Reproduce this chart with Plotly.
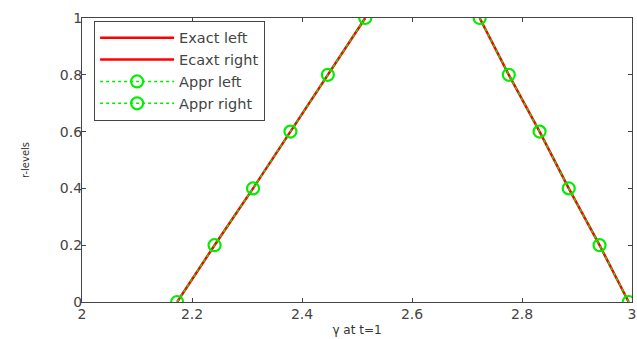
import plotly.graph_objects as go

r_levels = [0.0, 0.2, 0.4, 0.6, 0.8, 1.0]
left_vals = [2.173, 2.241, 2.311, 2.379, 2.447, 2.515]
right_vals = [2.994, 2.941, 2.885, 2.832, 2.776, 2.723]
x_ticks = [2, 2.2, 2.4, 2.6, 2.8, 3]
y_ticks = [0, 0.2, 0.4, 0.6, 0.8, 1]

RED = "#ff0000"
GREEN = "#00ee00"
FONT = "DejaVu Sans, Liberation Sans, Arial"

fig = go.Figure()
fig.add_trace(go.Scatter(x=left_vals, y=r_levels, mode="lines", name="Exact left",
                         line=dict(color=RED, width=2.5)))
fig.add_trace(go.Scatter(x=right_vals, y=r_levels, mode="lines", name="Ecaxt right",
                         line=dict(color=RED, width=2.5)))
fig.add_trace(go.Scatter(x=left_vals, y=r_levels, mode="lines+markers", name="Appr left",
                         line=dict(color=GREEN, width=1.5, dash="dot"),
                         marker=dict(symbol="circle-open", size=12, color=GREEN, line=dict(width=2.2, color=GREEN))))
fig.add_trace(go.Scatter(x=right_vals, y=r_levels, mode="lines+markers", name="Appr right",
                         line=dict(color=GREEN, width=1.5, dash="dot"),
                         marker=dict(symbol="circle-open", size=12, color=GREEN, line=dict(width=2.2, color=GREEN))))

axis_common = dict(showgrid=False, zeroline=False, showline=True, mirror="allticks",
                   linecolor="#444", linewidth=1.3, ticks="inside", ticklen=4,
                   tickcolor="#444", tickfont=dict(family=FONT, size=14, color="#444"))

fig.update_xaxes(range=[2, 3], tickvals=x_ticks, ticktext=["2", "2.2", "2.4", "2.6", "2.8", "3"],
                 ticklabelstandoff=-1,
                 title=dict(text="γ at t=1", font=dict(family=FONT, size=12, color="#333"), standoff=4),
                 **axis_common)
fig.update_yaxes(range=[0, 1], tickvals=y_ticks, ticktext=["0", "0.2", "0.4", "0.6", "0.8", "1"],
                 ticklabelstandoff=-4,
                 title=dict(text="r-levels", font=dict(family=FONT, size=10, color="#333"), standoff=28),
                 **axis_common)

fig.update_layout(
    width=637, height=339,
    margin=dict(l=82, r=5, t=18, b=37, autoexpand=False),
    plot_bgcolor="white", paper_bgcolor="white",
    showlegend=True,
    legend=dict(x=0.022, y=0.99, xanchor="left", yanchor="top",
                bgcolor="white", bordercolor="#444", borderwidth=1,
                font=dict(family=FONT, size=14.5, color="#444"),
                tracegroupgap=0, itemwidth=74),
)

fig.write_html("out.html", config={"displayModeBar": False},
               post_script="document.body.style.margin='0';document.body.style.overflow='hidden';")
